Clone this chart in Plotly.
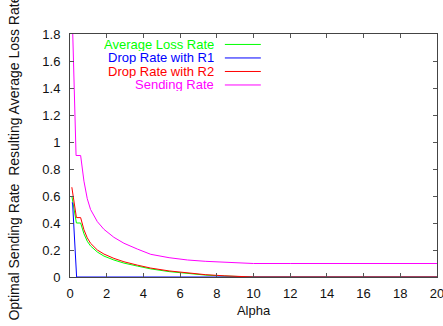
import plotly.graph_objects as go

# ---- data ----
alpha_loss = [0.1, 0.35, 0.58, 0.76, 0.94, 1.12, 1.49, 1.85, 2.39, 2.94, 3.67, 4.4,
              5.4, 6.4, 7.4, 8.4, 9.4, 10.0, 20.0]
avg_loss = [0.60, 0.40, 0.40, 0.32, 0.265, 0.23, 0.185, 0.155, 0.126, 0.103, 0.081, 0.060,
            0.040, 0.025, 0.014, 0.007, 0.002, 0.0, 0.0]
drop_r2 = [0.665, 0.44, 0.44, 0.35, 0.29, 0.25, 0.20, 0.17, 0.138, 0.113, 0.088, 0.066,
           0.045, 0.029, 0.017, 0.009, 0.003, 0.0, 0.0]

alpha_r1 = [0.1, 0.14, 0.36, 20.0]
drop_r1 = [0.55, 0.55, 0.0, 0.0]

alpha_send = [0.1, 0.33, 0.58, 0.66, 0.76, 0.94, 1.12, 1.49, 1.85, 2.39, 2.94, 3.67, 4.4,
              5.4, 6.4, 7.4, 8.4, 9.4, 10.0, 12.0, 14.0, 16.0, 18.0, 20.0]
send_rate = [2.05, 0.90, 0.90, 0.80, 0.71, 0.58, 0.50, 0.41, 0.353, 0.294, 0.25, 0.207, 0.168,
             0.143, 0.126, 0.116, 0.109, 0.103, 0.10, 0.10, 0.10, 0.10, 0.10, 0.10]

series_names = ["Average Loss Rate", "Drop Rate with R1", "Drop Rate with R2", "Sending Rate"]
series_colors = ["#00ff00", "#0000ff", "#ff0000", "#ff00ff"]
series_x = [alpha_loss, alpha_r1, alpha_loss, alpha_send]
series_y = [avg_loss, drop_r1, drop_r2, send_rate]

x_ticks = list(range(0, 21, 2))
y_ticks = [0, 0.2, 0.4, 0.6, 0.8, 1, 1.2, 1.4, 1.6, 1.8]

FONT = "Liberation Sans, Arial, sans-serif"

fig = go.Figure()
for name, col, xs, ys in zip(series_names, series_colors, series_x, series_y):
    fig.add_trace(go.Scatter(x=xs, y=ys, mode="lines", name=name,
                             line=dict(color=col, width=1), showlegend=False))

axis_common = dict(showline=True, linecolor="#444", linewidth=1, mirror="ticks",
                   ticks="inside", ticklen=4, tickcolor="#555", tickwidth=1,
                   showgrid=False, zeroline=False, ticklabeloverflow="allow",
                   automargin=False,
                   tickfont=dict(family=FONT, size=13, color="#111"))

fig.update_xaxes(range=[0, 20], tickvals=x_ticks, ticklabelstandoff=4,
                 title=dict(text="Alpha", font=dict(family=FONT, size=13, color="#111"), standoff=6),
                 **axis_common)
fig.update_yaxes(range=[0, 1.8], tickvals=y_ticks, ticklabelstandoff=6, **axis_common)

# y-axis label (gnuplot style, spanning the full height)
fig.add_annotation(text="Optimal Sending Rate  Resulting Average Loss Rate",
                   xref="paper", yref="paper", x=-0.155, y=0.5, yshift=-3,
                   xanchor="center", yanchor="middle", textangle=-90, showarrow=False,
                   font=dict(family=FONT, size=14, color="#111"))

# key (gnuplot style: right-aligned text, sample line on the right)
key_text_x = 0.395
key_line_x0, key_line_x1 = 0.422, 0.520
key_top, key_step = 0.957, 0.0556
for i, (name, col) in enumerate(zip(series_names, series_colors)):
    yk = key_top - i * key_step
    fig.add_annotation(text=name, xref="paper", yref="paper", x=key_text_x, y=yk,
                       xanchor="right", yanchor="middle", showarrow=False,
                       height=13, borderpad=0, valign="middle",
                       font=dict(family=FONT, size=13, color=col))
    fig.add_shape(type="line", xref="paper", yref="paper", x0=key_line_x0, x1=key_line_x1,
                  y0=yk, y1=yk, line=dict(color=col, width=1))

fig.update_layout(width=443, height=326, margin=dict(l=70, r=6, t=34, b=49),
                  paper_bgcolor="white", plot_bgcolor="white", showlegend=False)

fig.write_html("out.html")
